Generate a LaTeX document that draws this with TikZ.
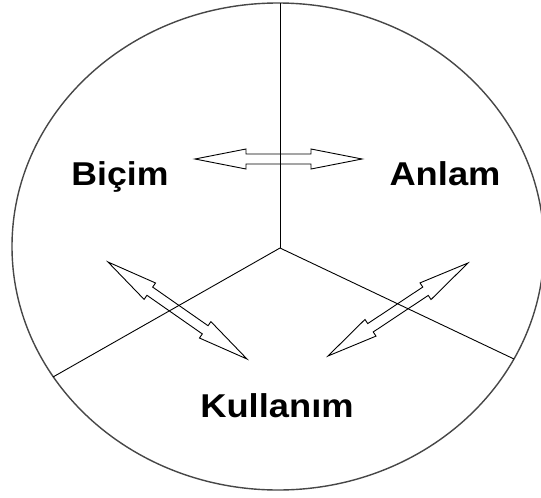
\documentclass[tikz,border=0pt]{standalone}
\usepackage{fontspec}
\setmainfont{Liberation Sans}
\usetikzlibrary{calc}
\tikzset{
  frame/.style={draw=black!72, line width=1.4pt},
  divider/.style={draw=black, line width=0.9pt},
  lbl/.style={font=\fontsize{33}{40}\selectfont\bfseries, anchor=base, inner sep=0pt},
  arrowbox/.style={draw=black, line width=0.9pt, line join=miter},
}
\newcommand\dblarrow[2]{%
  \draw[arrowbox] let \p1=($(#2)-(#1)$), \n1={atan2(\y1,\x1)}, \n2={veclen(\x1,\y1)} in
    [shift={(#1)}, rotate=\n1]
    (0pt,0pt) -- (51pt,10pt) -- (51pt,5pt) -- ({\n2*1pt-51pt},5pt) -- ({\n2*1pt-51pt},10pt)
    -- ({\n2*1pt},0pt) -- ({\n2*1pt-51pt},-10pt) -- ({\n2*1pt-51pt},-5pt) -- (51pt,-5pt)
    -- (51pt,-10pt) -- cycle;}
\begin{document}
\begin{tikzpicture}[x=1pt,y=-1pt]
  \clip (0,0) rectangle (541,498);
  \fill[white] (0,0) rectangle (541,498);
  \coordinate (C) at (278,246.5);
  \draw[frame] (C) ellipse [x radius=266, y radius=243.5];
  \coordinate (J) at (280,248);
  \coordinate (T) at (280,3);
  \coordinate (L) at (53,377);
  \coordinate (R) at (514,359);
  \draw[divider] (J) -- (T);
  \draw[divider] (J) -- (L);
  \draw[divider] (J) -- (R);
  \node[lbl] (bicim) at (120,185) {\scalebox{1.08}[1]{Biçim}};
  \node[lbl] (anlam) at (445,185) {\scalebox{1.1}[1]{Anlam}};
  \node[lbl] (kullanim) at (277,417) {\scalebox{1.1}[1]{Kullanım}};
  \coordinate (h1) at (195,159);
  \coordinate (h2) at (362,159);
  \coordinate (l1) at (108,262);
  \coordinate (l2) at (247,359);
  \coordinate (r1) at (468,263);
  \coordinate (r2) at (328,356);
  \dblarrow{h1}{h2}
  \dblarrow{l1}{l2}
  \dblarrow{r1}{r2}
\end{tikzpicture}
\end{document}
